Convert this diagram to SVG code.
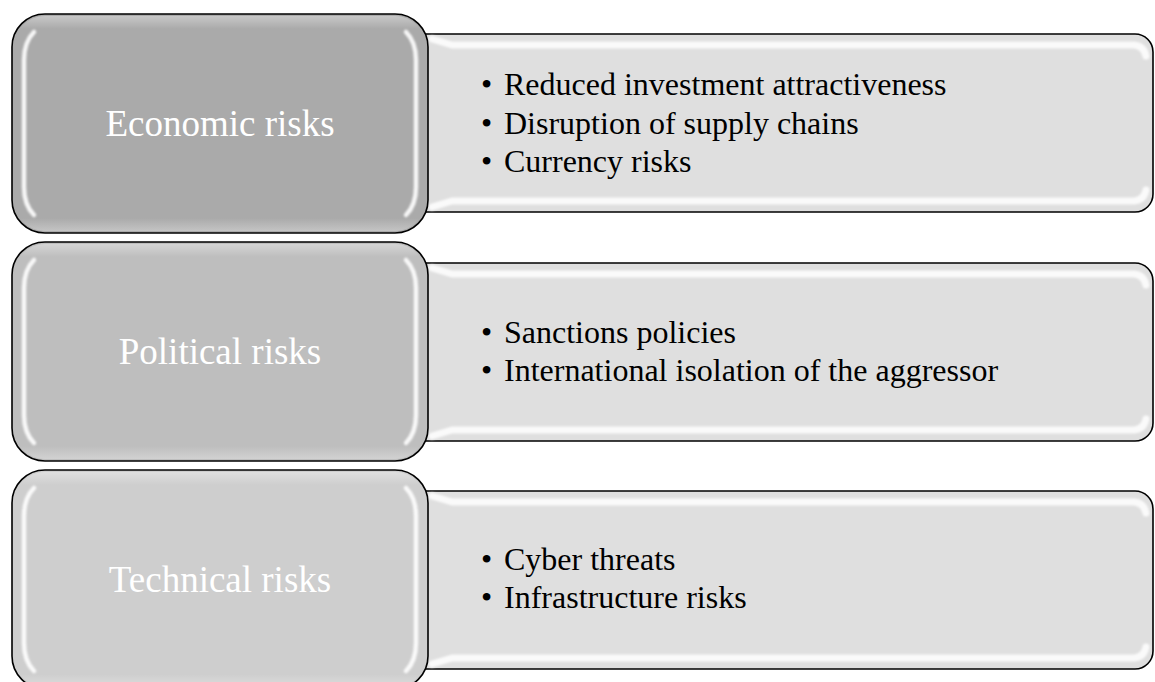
<svg xmlns="http://www.w3.org/2000/svg" width="1155" height="682" viewBox="0 0 1155 682">
  <defs>
    <filter id="soft" filterUnits="userSpaceOnUse" x="-20" y="-20" width="1200" height="740">
      <feGaussianBlur stdDeviation="1"/>
    </filter>
    <linearGradient id="capShade" x1="0" y1="0" x2="0" y2="1">
      <stop offset="0" stop-color="#ffffff" stop-opacity="0.35"/>
      <stop offset="0.06" stop-color="#ffffff" stop-opacity="0"/>
      <stop offset="0.94" stop-color="#ffffff" stop-opacity="0"/>
      <stop offset="1" stop-color="#ffffff" stop-opacity="0.3"/>
    </linearGradient>
  </defs>
  <style>
    .detail { fill: #dfdfdf; stroke: #000; stroke-width: 1.6; }
    .head { stroke: #000; stroke-width: 1.6; }
    .gloss { fill: none; stroke: #fff; stroke-width: 4.5; stroke-linecap: round; opacity: 0.9; filter: url(#soft); }
    .band { fill: none; stroke: #fafafa; stroke-width: 7; stroke-linecap: round; stroke-linejoin: round; filter: url(#soft); }
    .cap { fill: url(#capShade); }
    .headText { font-family: "Liberation Serif", "Times New Roman", serif; font-size: 37px; fill: #fff; text-anchor: middle; }
    .item { font-family: "Liberation Serif", "Times New Roman", serif; font-size: 32px; fill: #000; }
  </style>

  <!-- detail panels (drawn first so the heading blocks overlap them) -->
  <g id="economic-details">
    <rect class="detail" x="400" y="34" width="753" height="178" rx="18" ry="18"/>
    <path class="band" d="M432 39 L452 45 L1134 45 Q1144 46 1146 56"/>
    <path class="band" d="M432 207 L452 201 L1134 201 Q1144 200 1146 190"/>
    <text class="item"><tspan x="481" y="95">•</tspan><tspan x="504" y="95">Reduced investment attractiveness</tspan></text>
    <text class="item"><tspan x="481" y="133.5">•</tspan><tspan x="504" y="133.5">Disruption of supply chains</tspan></text>
    <text class="item"><tspan x="481" y="172">•</tspan><tspan x="504" y="172">Currency risks</tspan></text>
  </g>

  <g id="political-details">
    <rect class="detail" x="400" y="263" width="753" height="178" rx="18" ry="18"/>
    <path class="band" d="M432 268 L452 274 L1134 274 Q1144 275 1146 285"/>
    <path class="band" d="M432 436 L452 430 L1134 430 Q1144 429 1146 419"/>
    <text class="item"><tspan x="481" y="343">•</tspan><tspan x="504" y="343">Sanctions policies</tspan></text>
    <text class="item"><tspan x="481" y="381">•</tspan><tspan x="504" y="381">International isolation of the aggressor</tspan></text>
  </g>

  <g id="technical-details">
    <rect class="detail" x="400" y="491" width="753" height="178" rx="18" ry="18"/>
    <path class="band" d="M432 496 L452 502 L1134 502 Q1144 503 1146 513"/>
    <path class="band" d="M432 664 L452 658 L1134 658 Q1144 657 1146 647"/>
    <text class="item"><tspan x="481" y="570">•</tspan><tspan x="504" y="570">Cyber threats</tspan></text>
    <text class="item"><tspan x="481" y="608">•</tspan><tspan x="504" y="608">Infrastructure risks</tspan></text>
  </g>

  <!-- heading blocks -->
  <g id="economic-risks">
    <rect class="head" x="12" y="14" width="416" height="219" rx="33" ry="33" fill="#aaaaaa"/>
    <rect class="cap" x="14" y="16" width="412" height="215" rx="31" ry="31"/>
    <path class="gloss" d="M34 32 Q24 42 24 60 L24 187 Q24 205 34 215"/>
    <path class="gloss" d="M406 32 Q416 42 416 60 L416 187 Q416 205 406 215"/>
    <text class="headText" x="220" y="136">Economic risks</text>
  </g>

  <g id="political-risks">
    <rect class="head" x="12" y="242" width="416" height="219" rx="33" ry="33" fill="#bebebe"/>
    <rect class="cap" x="14" y="244" width="412" height="215" rx="31" ry="31"/>
    <path class="gloss" d="M34 260 Q24 270 24 288 L24 415 Q24 433 34 443"/>
    <path class="gloss" d="M406 260 Q416 270 416 288 L416 415 Q416 433 406 443"/>
    <text class="headText" x="220" y="364">Political risks</text>
  </g>

  <g id="technical-risks">
    <rect class="head" x="12" y="470" width="416" height="219" rx="33" ry="33" fill="#cecece"/>
    <rect class="cap" x="14" y="472" width="412" height="215" rx="31" ry="31"/>
    <path class="gloss" d="M34 488 Q24 498 24 516 L24 643 Q24 661 34 671"/>
    <path class="gloss" d="M406 488 Q416 498 416 516 L416 643 Q416 661 406 671"/>
    <text class="headText" x="220" y="592">Technical risks</text>
  </g>
</svg>
